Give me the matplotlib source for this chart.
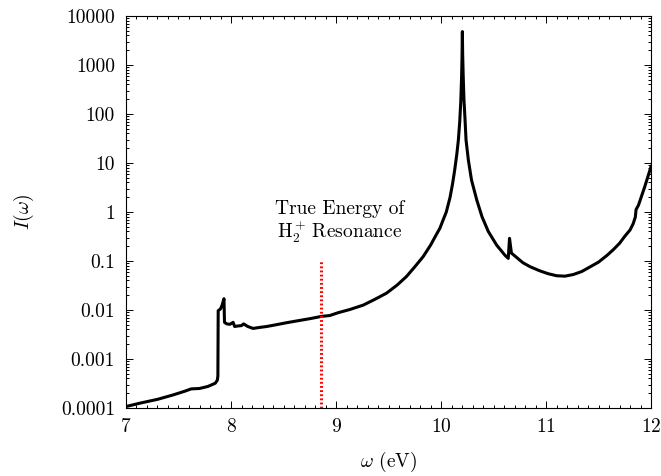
import matplotlib
matplotlib.use("Agg")
import matplotlib.pyplot as plt
from matplotlib.ticker import FixedLocator, LogLocator, MultipleLocator

plt.rcParams['font.family'] = 'serif'
plt.rcParams['font.serif'] = ['cmr10']
plt.rcParams['mathtext.fontset'] = 'cm'
plt.rcParams['axes.unicode_minus'] = False
plt.rcParams['axes.formatter.use_mathtext'] = True

# espectro I(omega)
omega = [7.00, 7.13, 7.30, 7.45, 7.56, 7.62, 7.70, 7.78, 7.85, 7.87, 7.875,
         7.878, 7.90, 7.915, 7.933, 7.938, 7.96, 7.99, 8.02, 8.035, 8.06, 8.10,
         8.12, 8.16, 8.21, 8.27, 8.34, 8.43, 8.53, 8.65, 8.76, 8.86, 8.94, 9.02,
         9.13, 9.26, 9.37, 9.48, 9.58, 9.67, 9.75, 9.83, 9.90, 9.95, 9.99,
         10.02, 10.05, 10.086, 10.11, 10.13, 10.15, 10.165, 10.178, 10.188,
         10.196, 10.200, 10.203, 10.206, 10.211, 10.218, 10.228, 10.238, 10.26,
         10.29, 10.34, 10.39, 10.45, 10.53, 10.61, 10.64, 10.652, 10.67, 10.78,
         10.85, 10.94, 11.02, 11.10, 11.18, 11.26, 11.34, 11.42, 11.50,
         11.58, 11.64, 11.70, 11.75, 11.80, 11.83, 11.85, 11.857, 11.88, 11.94,
         12.00]
intensidade = [1.07e-4, 1.25e-4, 1.5e-4, 1.85e-4, 2.2e-4, 2.45e-4, 2.5e-4,
               2.75e-4, 3.2e-4, 3.7e-4, 4.5e-4,
               0.0097, 0.0105, 0.0125, 0.0170, 0.0056, 0.0052, 0.0051, 0.0056,
               0.0046, 0.0047, 0.0048, 0.0052, 0.0046, 0.0042, 0.0044, 0.0046,
               0.0050, 0.0055, 0.0061, 0.0067, 0.0074, 0.0077, 0.0088,
               0.0102, 0.0126, 0.0165, 0.022, 0.032, 0.048, 0.076, 0.123, 0.21,
               0.33, 0.47, 0.69, 1.0, 2.0, 3.8, 7.2, 15, 29.5, 70, 180,
               600, 1600, 4800, 1600, 600, 200, 80, 29.5, 11.5,
               4.5, 1.76, 0.80, 0.40, 0.21, 0.13, 0.113, 0.29, 0.145, 0.092,
               0.076, 0.063, 0.055, 0.050, 0.049, 0.053, 0.061, 0.076,
               0.095, 0.13, 0.17, 0.23, 0.32, 0.43, 0.58, 0.79, 1.12, 1.38, 3.3,
               8.5]

# energia verdadeira da ressonancia
omega_res = 8.86
linha_res = [1e-4, 0.1]

ticks_y = [1e-4, 1e-3, 1e-2, 1e-1, 1, 10, 100, 1000, 10000]
rotulos_y = ['0.0001', '0.001', '0.01', '0.1', '1', '10', '100', '1000', '10000']
ticks_x = [7, 8, 9, 10, 11, 12]

fig = plt.figure(figsize=(6.61, 4.76), dpi=100)
ax = fig.add_axes([0.1906, 0.1429, 0.7944, 0.8235])

ax.plot(omega, intensidade, color='black', lw=2.2, solid_joinstyle='round')
ax.plot([omega_res, omega_res], linha_res, color='red', lw=2.2,
        linestyle=(0, (0.6, 0.75)))

ax.text(9.03, 0.62, 'True Energy of\n$\\mathrm{H_2^+\\,Resonance}$',
        ha='center', va='center', fontsize=14, linespacing=1.0)

ax.set_yscale('log')
ax.set_xlim(7, 12)
ax.set_ylim(1e-4, 1e4)
ax.yaxis.set_major_locator(FixedLocator(ticks_y))
ax.set_yticklabels(rotulos_y)
ax.yaxis.set_minor_locator(LogLocator(base=10, subs=range(2, 10), numticks=20))
ax.xaxis.set_major_locator(FixedLocator(ticks_x))
ax.xaxis.set_minor_locator(MultipleLocator(0.1))

ax.tick_params(which='both', direction='in', top=True, right=True,
               labelsize=14, width=0.7)
ax.tick_params(which='major', length=5)
ax.tick_params(which='minor', length=2.5)
ax.tick_params(axis='y', pad=8)
ax.tick_params(axis='x', pad=7)
for s in ax.spines.values():
    s.set_linewidth(0.8)

ax.set_xlabel('$\\omega$ (eV)', fontsize=14, labelpad=10)
ax.set_ylabel('$I(\\omega)$', fontsize=14, labelpad=18)

fig.savefig('out.png', dpi=100)
